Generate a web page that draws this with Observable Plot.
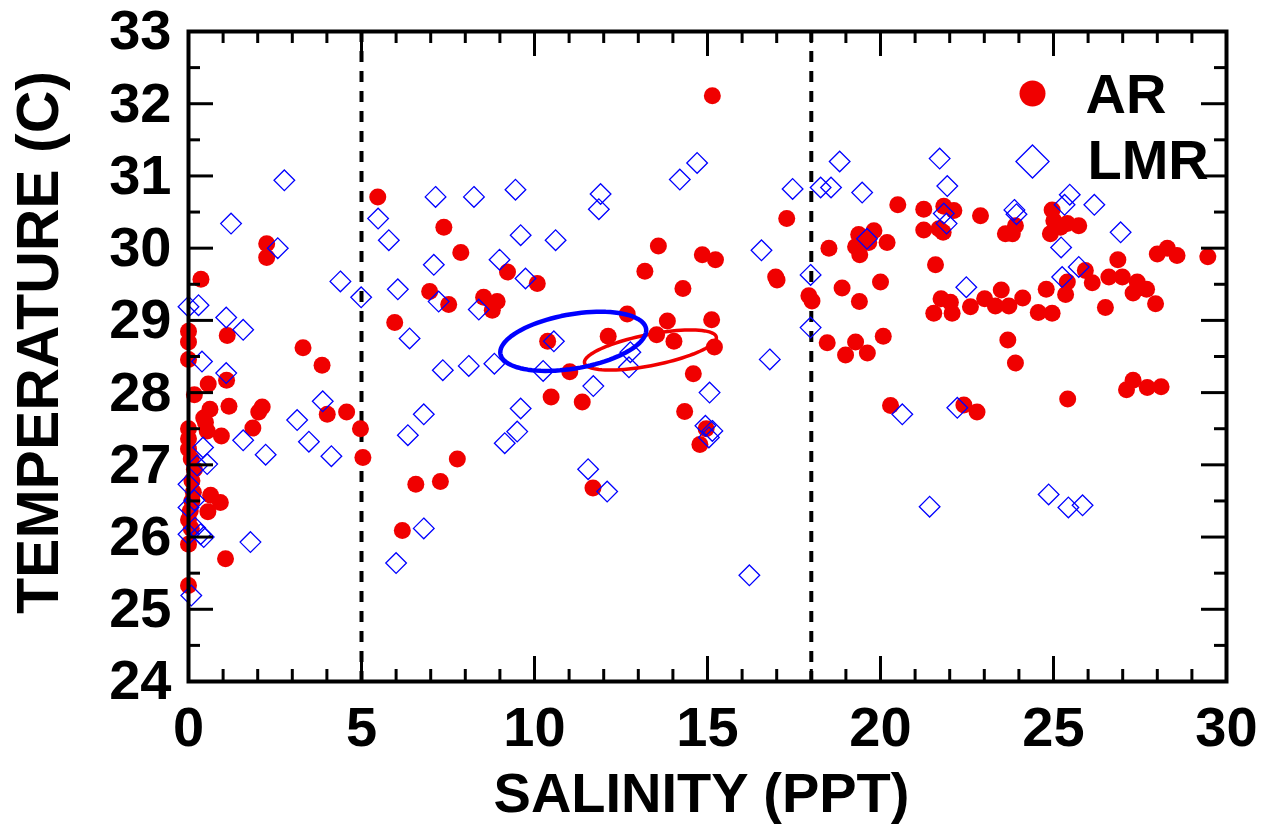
<!DOCTYPE html>
<html><head><meta charset="utf-8">
<script src="https://cdn.jsdelivr.net/npm/d3@7"></script>
<script src="https://cdn.jsdelivr.net/npm/@observablehq/plot@0.6"></script>
<style>body{margin:0;background:#fff}</style>
</head><body><div id="chart"></div>
<script>
// ---- data: AR (red dots) salinity / temperature ----
const arSalinity = [
0.36,2.26,2.26,0,0,1.12,3.31,3.86,0,1.10,0.57,0.17,4.01,4.57,0.62,1.17,2.13,2.03,0.44,4.97,0,0.49,0.54,0.95,1.86,5.04,
0,0,0.08,0.17,0.1,0.64,0.92,0.56,0.14,0.1,0.05,0,0.08,0,1.07,0,
5.47,7.38,7.87,9.22,10.08,6.97,7.52,8.53,8.92,8.78,5.96,10.38,11.02,10.48,11.38,7.77,7.28,6.57,6.18,11.69,
15.14,17.29,13.58,14.85,15.23,13.19,16.97,17.01,14.29,17.93,18.02,12.68,13.84,15.12,12.13,13.53,14.03,15.20,14.59,14.34,14.96,14.78,
20.50,21.25,21.83,22.12,22.89,23.61,21.25,21.69,21.81,19.37,19.81,19.66,19.28,19.40,20.19,18.51,21.59,
18.89,20.00,19.39,21.75,22.02,22.07,21.54,22.60,23.01,23.32,23.49,18.46,18.99,19.28,19.62,20.08,23.68,20.29,22.41,22.79,
23.90,23.81,24.96,25.01,25.40,25.73,24.91,25.20,28.00,28.29,28.57,29.46,25.92,25.40,26.12,26.60,26.86,26.99,27.42,27.69,27.30,
25.35,24.79,24.11,23.71,24.56,24.96,26.50,27.95,23.90,27.11,27.30,27.71,28.11,25.41
];
const arTemperature = [
29.57,30.06,29.87,28.85,28.70,28.79,28.62,28.38,28.46,28.17,28.12,27.97,27.70,27.73,27.77,27.81,27.80,27.73,27.65,27.50,27.50,27.59,27.47,27.40,27.51,27.10,
27.36,27.22,27.08,26.94,26.78,26.58,26.48,26.35,26.62,26.50,26.36,26.24,26.12,25.90,25.70,25.33,
30.71,30.29,29.94,29.67,29.51,29.40,29.22,29.32,29.26,29.14,28.97,28.71,28.29,27.94,27.87,27.08,26.77,26.73,26.09,26.68,
32.11,30.41,30.03,29.91,29.84,29.68,29.60,29.56,29.44,29.34,29.27,29.09,28.99,29.01,28.78,28.80,28.71,28.63,28.26,27.74,27.50,27.28,
30.60,30.54,30.58,30.52,30.45,30.20,30.25,30.27,30.22,30.19,30.24,30.08,30.02,29.91,30.08,30.00,29.77,
29.45,29.53,29.26,29.30,29.25,29.10,29.10,29.19,29.30,29.20,29.42,28.69,28.52,28.70,28.55,28.78,28.73,27.82,27.83,27.73,
30.31,30.20,30.53,30.38,30.34,30.31,30.20,30.29,29.92,30.00,29.90,29.88,29.69,29.53,29.52,29.60,29.84,29.60,29.53,29.43,29.38,
29.36,29.43,29.31,29.20,29.11,29.10,29.18,29.23,28.41,28.04,28.17,28.07,28.08,27.91
];
// ---- data: LMR (blue diamonds) salinity / temperature ----
const lmrSalinity = [
2.77,1.23,2.58,4.39,0,0.29,1.09,1.58,0.39,1.09,3.88,3.14,1.58,2.23,3.48,4.13,0.42,0.25,0.54,0,0.17,0,0.19,0.35,0,0.44,1.79,0.08,
7.14,8.25,9.45,5.48,5.79,9.60,10.61,7.09,8.99,9.74,4.99,6.05,7.23,8.39,6.39,10.56,7.35,8.10,8.84,10.25,9.60,6.80,6.34,9.50,9.14,6.80,6.00,11.55,12.10,
14.70,14.20,11.91,11.86,17.46,16.56,17.98,17.98,12.77,12.73,11.70,16.80,15.06,14.94,15.14,15.04,16.21,
18.82,21.71,18.27,18.57,19.47,21.93,21.83,21.91,19.61,22.48,20.63,22.22,25.47,25.32,26.18,23.87,23.93,25.22,26.94,25.73,25.25,21.42,24.86,25.43,25.84
];
const lmrTemperature = [
30.94,30.34,30.00,29.54,29.19,29.21,29.04,28.87,28.43,28.27,27.88,27.62,27.34,27.14,27.32,27.12,27.24,26.99,27.01,26.73,26.51,26.41,26.13,26.04,26.04,26.00,25.93,25.19,
30.71,30.71,30.81,30.41,30.11,30.18,30.11,29.77,29.84,29.58,29.32,29.43,29.26,29.15,28.75,28.71,28.31,28.37,28.40,28.30,27.78,27.70,27.41,27.46,27.30,26.12,25.64,26.94,26.63,
31.18,30.95,30.75,30.54,30.82,29.97,29.63,28.90,28.56,28.35,28.09,28.46,28.00,27.54,27.47,27.38,25.47,
31.20,31.24,30.84,30.84,30.77,30.86,30.48,30.34,30.13,29.46,27.70,27.79,30.74,30.60,30.60,30.53,30.47,30.01,30.22,29.74,29.60,26.42,26.59,26.41,26.44
];
// ---- ellipses (center, half-axis vectors in data units) ----
const ellipseSeries = ["AR", "LMR"];
const ellipseCenterS = [13.35, 11.12];
const ellipseCenterT = [28.59, 28.71];
const ellipseMajorS = [1.905, 2.105];
const ellipseMajorT = [0.18, 0.175];
const ellipseMinorS = [0.087, 0.131];
const ellipseMinorT = [-0.211, -0.370];
// ---- reference lines and ticks ----
const dividers = [5, 18];
const xMajor = [0, 5, 10, 15, 20, 25, 30];
const xMinor = d3.range(1, 30).filter(d => d % 5 !== 0);
const yMajor = [24, 25, 26, 27, 28, 29, 30, 31, 32, 33];
const yMinor = yMajor.slice(0, -1).map(d => d + 0.5);
const legendLabels = ["AR", "LMR"];

const RED = "#f00000", BLUE = "#0000ff";
const ar = arSalinity.map((s, i) => ({s, t: arTemperature[i]}));
const lmr = lmrSalinity.map((s, i) => ({s, t: lmrTemperature[i]}));
const ell = [];
ellipseSeries.forEach((name, k) => {
  for (let a = 0; a <= 360; a += 4) {
    const r = a * Math.PI / 180;
    ell.push({name,
      s: ellipseCenterS[k] + ellipseMajorS[k] * Math.cos(r) + ellipseMinorS[k] * Math.sin(r),
      t: ellipseCenterT[k] + ellipseMajorT[k] * Math.cos(r) + ellipseMinorT[k] * Math.sin(r)});
  }
});

const W = 1275, H = 832, mL = 188, mR = 49, mT = 31, mB = 151;
const pw = W - mL - mR, ph = H - mT - mB;
const FONT = 56, TICKFONT = 56;

const chart = Plot.plot({
  width: W, height: H,
  marginLeft: mL, marginRight: mR, marginTop: mT, marginBottom: mB,
  style: {fontFamily: "'Liberation Sans', Arial, sans-serif", fontWeight: "bold", background: "#fff", color: "#000", overflow: "visible"},
  x: {domain: [0, 30]},
  y: {domain: [24, 33]},
  marks: [
    Plot.ruleX(dividers, {x: d => d, stroke: "#000", strokeWidth: 4, strokeDasharray: "11,9"}),
    Plot.dot(ar, {x: "s", y: "t", r: 8.5, fill: RED, stroke: "none"}),
    Plot.dot(lmr, {x: "s", y: "t", symbol: "diamond2", r: 9.3, fill: "none", stroke: BLUE, strokeWidth: 1.3}),
    Plot.line(ell, {x: "s", y: "t", z: "name", stroke: d => d.name === "AR" ? RED : BLUE, strokeWidth: d => d.name === "AR" ? 3.5 : 4.5, curve: "linear"}),
    // ticks (inward)
    Plot.ruleX(xMajor, {x: d => d, insetTop: ph - 25, stroke: "#000", strokeWidth: 3}),
    Plot.ruleX(xMinor, {x: d => d, insetTop: ph - 12, stroke: "#000", strokeWidth: 3}),
    Plot.ruleX(xMajor, {x: d => d, insetBottom: ph - 25, stroke: "#000", strokeWidth: 3}),
    Plot.ruleX(xMinor, {x: d => d, insetBottom: ph - 12, stroke: "#000", strokeWidth: 3}),
    Plot.ruleY(yMajor, {y: d => d, insetRight: pw - 25, stroke: "#000", strokeWidth: 3}),
    Plot.ruleY(yMinor, {y: d => d, insetRight: pw - 12, stroke: "#000", strokeWidth: 3}),
    Plot.ruleY(yMajor, {y: d => d, insetLeft: pw - 25, stroke: "#000", strokeWidth: 3}),
    Plot.ruleY(yMinor, {y: d => d, insetLeft: pw - 12, stroke: "#000", strokeWidth: 3}),
    Plot.frame({stroke: "#000", strokeWidth: 4}),
    Plot.axisX({ticks: xMajor, tickSize: 0, tickPadding: 25, fontSize: TICKFONT, fontWeight: "bold", label: null}),
    Plot.axisY({ticks: yMajor, tickSize: 0, tickPadding: 17, fontSize: TICKFONT, fontWeight: "bold", label: null}),
    Plot.text(["SALINITY (PPT)"], {frameAnchor: "bottom", textAnchor: "middle", lineAnchor: "middle", dx: -6, dy: 113, fontSize: FONT, fontWeight: "bold", fill: "#000"}),
    Plot.text(["TEMPERATURE (C)"], {frameAnchor: "left", textAnchor: "middle", lineAnchor: "middle", rotate: -90, dx: -149, dy: -14, fontSize: 59, fontWeight: "bold", fill: "#000"}),
    // legend
    Plot.dot([legendLabels[0]], {frameAnchor: "top-left", dx: 844, dy: 62, r: 13, fill: RED, stroke: "none"}),
    Plot.dot([legendLabels[1]], {frameAnchor: "top-left", dx: 844, dy: 130, r: 14.9, symbol: "diamond2", fill: "none", stroke: BLUE, strokeWidth: 1.3}),
    Plot.text([legendLabels[0]], {text: d => d, frameAnchor: "top-left", dx: 897, dy: 64, textAnchor: "start", lineAnchor: "middle", fontSize: FONT, fontWeight: "bold", fill: "#000"}),
    Plot.text([legendLabels[1]], {text: d => d, frameAnchor: "top-left", dx: 899, dy: 130, textAnchor: "start", lineAnchor: "middle", fontSize: FONT, fontWeight: "bold", fill: "#000"})
  ]
});
document.getElementById("chart").appendChild(chart);
</script>
</body></html>
